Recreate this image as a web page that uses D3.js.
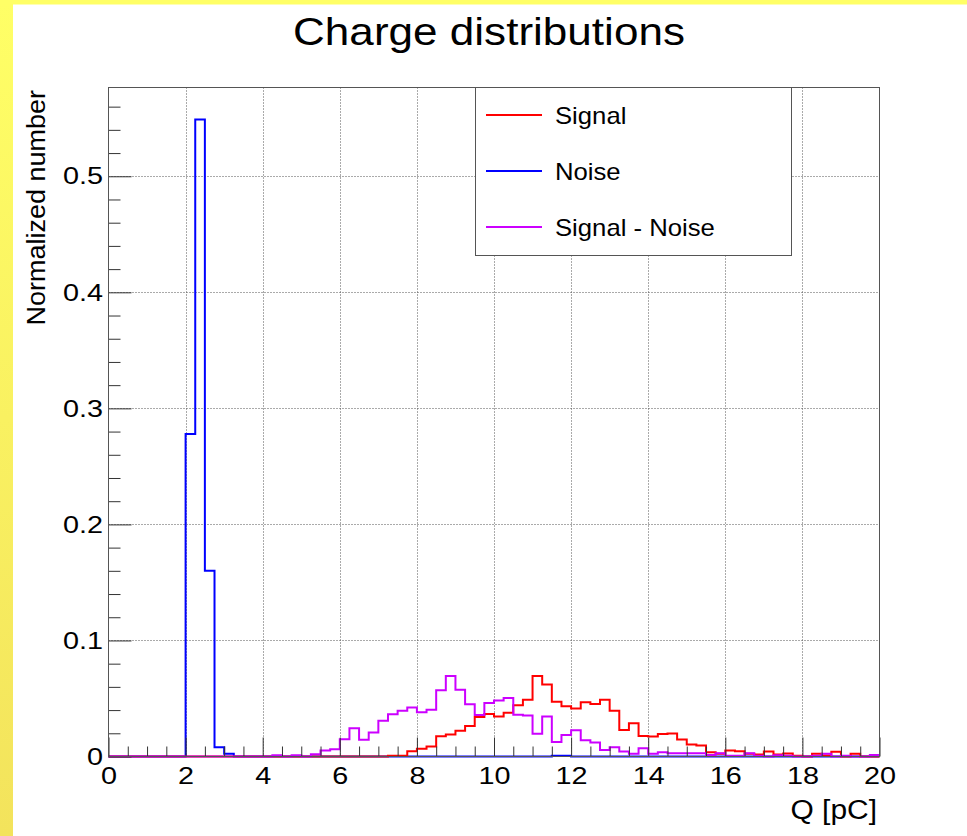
<!DOCTYPE html>
<html>
<head>
<meta charset="utf-8">
<script src="https://cdn.jsdelivr.net/npm/d3@7"></script>
<style>
  html, body { margin: 0; padding: 0; background: #fff; }
  svg { display: block; }
  text { font-family: "Liberation Sans", Arial, Helvetica, sans-serif; fill: #000; }
</style>
</head>
<body>
<svg id="chart" width="967" height="836"></svg>
<script>
// ---------- data (80 bins of 0.25 pC from 0 to 20) ----------
const binWidth = 0.25;
const xDomain = [0, 20];
const yDomain = [0, 0.5765];
const xMajorTicks = [0, 2, 4, 6, 8, 10, 12, 14, 16, 18, 20];
const yMajorTicks = [0, 0.1, 0.2, 0.3, 0.4, 0.5];
const seriesNames = ["Signal", "Noise", "Signal - Noise"];
const seriesColors = ["#ff0000", "#0000ff", "#cc00ff"];
const titleText = "Charge distributions";
const xTitle = "Q [pC]";
const yTitle = "Normalized number";

const noise = [
  0, 0, 0, 0, 0, 0, 0, 0,                       // 0 - 2
  0.278, 0.549, 0.160, 0.008, 0.0023, 0, 0, 0,  // 2 - 4
  0, 0, 0, 0, 0, 0, 0, 0,                       // 4 - 6
  0, 0, 0, 0, 0, 0, 0, 0,                       // 6 - 8
  0, 0, 0, 0, 0, 0, 0, 0,                       // 8 - 10
  0, 0, 0, 0, 0, 0, 0.0007, 0.0007,             // 10 - 12
  0, 0, 0, 0, 0, 0, 0, 0,                       // 12 - 14
  0, 0, 0, 0, 0, 0, 0, 0,                       // 14 - 16
  0, 0, 0, 0, 0, 0, 0, 0,                       // 16 - 18
  0, 0, 0, 0, 0, 0, 0, 0                        // 18 - 20
];

const signal = [
  0, 0, 0, 0, 0, 0, 0, 0,                                              // 0 - 2
  0, 0, 0, 0, 0, 0, 0, 0,                                              // 2 - 4
  0, 0, 0, 0, 0, 0, 0, 0,                                              // 4 - 6
  0, 0, 0, 0, 0, 0.0007, 0.0007, 0.0046,                               // 6 - 8
  0.0066, 0.0086, 0.0175, 0.019, 0.0222, 0.0262, 0.0341, 0.0366,       // 8 - 10
  0.0345, 0.0377, 0.0442, 0.0489, 0.0693, 0.062, 0.0471, 0.0434,       // 10 - 12
  0.0413, 0.0468, 0.0452, 0.0489, 0.0395, 0.0229, 0.0287, 0.0176,      // 12 - 14
  0.0172, 0.0193, 0.0199, 0.0146, 0.0103, 0.0095, 0.0037, 0.0023,      // 14 - 16
  0.0052, 0.0046, 0.0023, 0.0017, 0.0043, 0.0017, 0.0026, 0.0006,      // 16 - 18
  0, 0.0023, 0.0008, 0.004, 0, 0.0023, 0, 0                            // 18 - 20
];

const signalMinusNoise = [
  0, 0, 0, 0, 0, 0, 0, 0,                                              // 0 - 2
  0, 0, 0, 0, 0, 0, 0, 0,                                              // 2 - 4
  0, 0.001, 0, 0.001, 0, 0.002, 0.0052, 0.0063,                        // 4 - 6
  0.0149, 0.0244, 0.0144, 0.0207, 0.0307, 0.0365, 0.0394, 0.0422,      // 6 - 8
  0.0382, 0.0402, 0.0571, 0.0693, 0.0575, 0.045, 0.0358, 0.046,        // 8 - 10
  0.0483, 0.0505, 0.036, 0.0353, 0.0196, 0.0345, 0.0126, 0.0186,       // 10 - 12
  0.0226, 0.014, 0.0121, 0.0057, 0.008, 0.0043, 0.0023, 0.0072,        // 12 - 14
  0.0023, 0.0037, 0.0029, 0.0029, 0.0029, 0.0029, 0.0014, 0.0029,      // 14 - 16
  0.0007, 0.0007, 0.0029, 0.0007, 0, 0.001, 0.0007, 0,                 // 16 - 18
  0, 0.0007, 0.0023, 0, 0.0007, 0, 0, 0.0012                           // 18 - 20
];

// ---------- layout ----------
const W = 967, H = 836;
const frame = { left: 108.5, right: 879.5, top: 87.5, bottom: 756.5 };
const svg = d3.select("#chart");

// background with yellow border (ROOT canvas look)
const defs = svg.append("defs");
const grad = defs.append("linearGradient").attr("id", "yel").attr("x1", 0).attr("y1", 0).attr("x2", 0).attr("y2", 1);
grad.append("stop").attr("offset", "0%").attr("stop-color", "#ffff66");
grad.append("stop").attr("offset", "100%").attr("stop-color", "#f3e35c");
svg.append("rect").attr("x", 0).attr("y", 0).attr("width", W).attr("height", H).attr("fill", "#ffffff");
svg.append("rect").attr("x", 0).attr("y", 0).attr("width", 13).attr("height", H).attr("fill", "url(#yel)");
svg.append("rect").attr("x", 0).attr("y", 0).attr("width", W).attr("height", 4.5).attr("fill", "#ffff66");

const x = d3.scaleLinear().domain(xDomain).range([frame.left, frame.right]);
const y = d3.scaleLinear().domain(yDomain).range([frame.bottom, frame.top]);

// ---------- grid ----------
const grid = svg.append("g").attr("stroke", "#555").attr("stroke-width", 1).attr("stroke-dasharray", "1,2").attr("fill", "none");
xMajorTicks.filter(v => v > xDomain[0] && v < xDomain[1]).forEach(v => {
  grid.append("line").attr("x1", Math.round(x(v)) + 0.5).attr("x2", Math.round(x(v)) + 0.5)
    .attr("y1", frame.top).attr("y2", frame.bottom);
});
yMajorTicks.filter(v => v > 0).forEach(v => {
  grid.append("line").attr("y1", Math.round(y(v)) + 0.5).attr("y2", Math.round(y(v)) + 0.5)
    .attr("x1", frame.left).attr("x2", frame.right);
});

// ---------- histograms ----------
const stepLine = d3.line().x(d => x(d[0])).y(d => y(d[1])).curve(d3.curveStepAfter);
function histPoints(vals) {
  const pts = vals.map((v, i) => [i * binWidth, v]);
  pts.push([xDomain[1], vals[vals.length - 1]]);
  return pts;
}
const drawOrder = [
  { vals: noise, color: seriesColors[1] },
  { vals: signal, color: seriesColors[0] },
  { vals: signalMinusNoise, color: seriesColors[2] }
];
drawOrder.forEach(s => {
  svg.append("path").attr("d", stepLine(histPoints(s.vals)))
    .attr("fill", "none").attr("stroke", s.color).attr("stroke-width", 2)
    .attr("stroke-linejoin", "miter");
});

// ---------- axes ----------
const tickScale = 1.2;
const xMinor = d3.range(0, 20.001, 0.5).filter(v => v % 2 !== 0);
const yMinor = d3.range(0, 0.5601, 0.02).map(v => +v.toFixed(2)).filter(v => Math.abs(v * 10 - Math.round(v * 10)) > 1e-6);

const gx = svg.append("g").attr("transform", `translate(0,${frame.bottom})`)
  .call(d3.axisBottom(x).tickValues(xMajorTicks).tickSizeInner(-19).tickSizeOuter(0).tickPadding(10.5)
    .tickFormat(d3.format("d")));
gx.select(".domain").remove();
gx.selectAll("line").attr("stroke", "#333");
gx.selectAll("text").attr("font-size", 24).attr("transform", `scale(${tickScale},1)`)
  .style("font-family", '"Liberation Sans", Arial, sans-serif').attr("fill", "#000");

const gxm = svg.append("g").attr("transform", `translate(0,${frame.bottom})`)
  .call(d3.axisBottom(x).tickValues(xMinor).tickSizeInner(-10).tickSizeOuter(0).tickFormat(""));
gxm.select(".domain").remove();
gxm.selectAll("line").attr("stroke", "#333");

const yPad = 5.5;
const gy = svg.append("g").attr("transform", `translate(${frame.left},0)`)
  .call(d3.axisLeft(y).tickValues(yMajorTicks).tickSizeInner(-23).tickSizeOuter(0).tickPadding(yPad)
    .tickFormat(v => v === 0 ? "0" : d3.format(".1f")(v)));
gy.select(".domain").remove();
gy.selectAll("line").attr("stroke", "#333");
gy.selectAll("text").attr("font-size", 24).attr("x", 0)
  .attr("transform", `translate(${-yPad},0) scale(${tickScale},1)`)
  .style("font-family", '"Liberation Sans", Arial, sans-serif').attr("fill", "#000");

const gym = svg.append("g").attr("transform", `translate(${frame.left},0)`)
  .call(d3.axisLeft(y).tickValues(yMinor).tickSizeInner(-12).tickSizeOuter(0).tickFormat(""));
gym.select(".domain").remove();
gym.selectAll("line").attr("stroke", "#333");

// ---------- frame ----------
svg.append("rect").attr("x", frame.left).attr("y", frame.top)
  .attr("width", frame.right - frame.left).attr("height", frame.bottom - frame.top)
  .attr("fill", "none").attr("stroke", "#555").attr("stroke-width", 1);

// ---------- legend ----------
const leg = { x0: 475.5, x1: 791.5, y0: 87.5, y1: 255.5 };
svg.append("rect").attr("x", leg.x0).attr("y", leg.y0).attr("width", leg.x1 - leg.x0).attr("height", leg.y1 - leg.y0)
  .attr("fill", "#fff").attr("stroke", "#555").attr("stroke-width", 1);
const legendRows = [115, 171, 227];
seriesNames.forEach((name, i) => {
  const ly = legendRows[i];
  svg.append("line").attr("x1", 486).attr("x2", 542).attr("y1", ly).attr("y2", ly)
    .attr("stroke", seriesColors[i]).attr("stroke-width", 2);
  svg.append("text").attr("transform", `translate(555,${ly + 8.6}) scale(1.07,1)`)
    .attr("font-size", 24).text(name);
});

// ---------- titles ----------
svg.append("text").attr("transform", "translate(489,45) scale(1.13,1)")
  .attr("text-anchor", "middle").attr("font-size", 39).text(titleText);
svg.append("text").attr("transform", "translate(877,819) scale(1.07,1)")
  .attr("text-anchor", "end").attr("font-size", 28).text(xTitle);
svg.append("text").attr("transform", "translate(45,90) rotate(-90) scale(1.08,1)")
  .attr("text-anchor", "end").attr("font-size", 25).text(yTitle);
</script>
</body>
</html>
